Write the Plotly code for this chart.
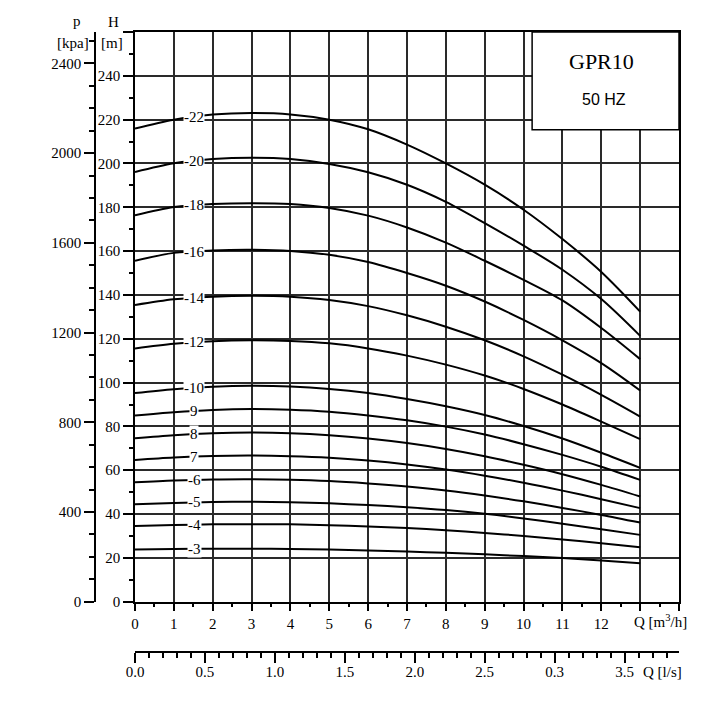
import numpy as np
import plotly.graph_objects as go

# ---------------- data ----------------
Q = [0, 1, 2, 3, 4, 5, 6, 7, 8, 9, 10, 11, 12, 13]  # m3/h

H_22 = [215.9, 220.0, 222.3, 223.0, 222.4, 220.0, 215.6, 208.6, 200.0, 190.3, 178.9, 165.5, 150.5, 132.4]
H_20 = [196.1, 200.1, 202.0, 202.6, 202.0, 199.8, 196.0, 190.3, 182.5, 172.8, 162.5, 151.5, 138.1, 121.3]
H_18 = [176.3, 180.1, 181.5, 181.9, 181.5, 179.7, 176.2, 170.8, 163.9, 155.6, 146.9, 137.5, 124.9, 110.7]
H_16 = [155.6, 159.2, 160.3, 160.6, 160.1, 158.3, 155.0, 150.0, 144.2, 137.0, 128.6, 119.3, 108.9, 96.4]
H_14 = [135.4, 138.0, 139.2, 139.6, 139.2, 137.7, 134.9, 130.7, 125.5, 119.3, 112.0, 103.6, 94.4, 84.5]
H_12 = [115.6, 117.7, 118.9, 119.3, 119.0, 117.9, 115.6, 112.3, 108.2, 103.2, 97.1, 90.0, 82.2, 74.2]
H_10 = [95.2, 97.0, 98.1, 98.5, 98.2, 97.1, 95.2, 92.5, 89.2, 85.2, 80.2, 74.5, 68.0, 61.1]
H_9 = [85.0, 86.5, 87.5, 87.9, 87.6, 86.7, 85.0, 82.8, 79.9, 76.3, 71.9, 67.0, 61.6, 55.6]
H_8 = [74.6, 76.0, 76.9, 77.2, 76.9, 76.0, 74.5, 72.4, 69.7, 66.4, 62.5, 58.2, 53.3, 48.0]
H_7 = [64.7, 65.8, 66.5, 66.7, 66.4, 65.7, 64.4, 62.6, 60.3, 57.5, 54.3, 50.7, 46.8, 42.7]
H_6 = [54.5, 55.3, 55.8, 55.9, 55.7, 55.1, 54.0, 52.6, 50.8, 48.5, 45.8, 42.8, 39.6, 36.1]
H_5 = [44.5, 45.1, 45.5, 45.6, 45.4, 44.9, 44.1, 43.1, 41.8, 40.1, 38.0, 35.6, 33.1, 30.5]
H_4 = [34.5, 35.0, 35.3, 35.4, 35.3, 34.9, 34.3, 33.6, 32.6, 31.4, 30.0, 28.4, 26.7, 24.9]
H_3 = [23.8, 24.1, 24.2, 24.2, 24.1, 23.8, 23.4, 22.9, 22.3, 21.6, 20.8, 19.9, 18.8, 17.6]

stage_labels = ["-22", "-20", "-18", "-16", "-14", "-12", "-10", "9", "8", "7", "-6", "-5", "-4", "-3"]
curves = [H_22, H_20, H_18, H_16, H_14, H_12, H_10, H_9, H_8, H_7, H_6, H_5, H_4, H_3]

H_ticks = list(range(0, 261, 20))
H_ticktext = [str(v) for v in range(0, 241, 20)] + [" "]
H_minor = list(range(10, 260, 20))
P_ticks = list(range(0, 2401, 400))
P_minor = [v for v in range(100, 2501, 100) if v % 400 != 0]
Q_ticks = list(range(0, 15))
Q_ticktext = [str(i) for i in range(13)] + [" ", " "]
Q_minor = [i + 0.5 for i in range(14)]
QLS_ticks = [0.0, 0.5, 1.0, 1.5, 2.0, 2.5, 3.0, 3.5]
QLS_ticktext = ["0.0", "0.5", "1.0", "1.5", "2.0", "2.5", "0.3", "3.5"]
QLS_minor = [round(v * 0.1, 1) for v in range(1, 39) if v % 5 != 0]

KPA_PER_M = 9.77
M3H_PER_LS = 3.6
H_MAX = 260
Q_MAX = 14

title_text = "GPR10"
freq_text = "50 HZ"

# ---------------- figure ----------------
W, HGT = 722, 701
ML, MR, MT, MB = 60, 43, 32, 50
PW = W - ML - MR
PH = HGT - MT - MB


def px(xp):
    return (xp - ML) / PW


def py(yp):
    return (HGT - MB - yp) / PH


SERIF = "Liberation Serif, Times New Roman, serif"
SANS = "Liberation Sans, Arial, sans-serif"
GRID = "#2a2a2a"
TICKFONT = dict(family=SERIF, size=15, color="black")

fig = go.Figure()
for lab, h in zip(stage_labels, curves):
    fig.add_trace(go.Scatter(x=Q, y=h, mode="lines",
                             line=dict(color="black", width=2, shape="spline", smoothing=0.9),
                             showlegend=False, hoverinfo="skip"))

# helper traces so the extra axes get drawn
fig.add_trace(go.Scatter(x=[0], y=[0], xaxis="x2", yaxis="y2", mode="markers",
                         marker=dict(opacity=0), showlegend=False, hoverinfo="skip"))
fig.add_trace(go.Scatter(x=[0], y=[0], xaxis="x", yaxis="y3", mode="markers",
                         marker=dict(opacity=0), showlegend=False, hoverinfo="skip"))

xdom = [px(135), 1.0]
ydom = [py(601.7), 1.0]

fig.update_layout(
    width=W, height=HGT,
    margin=dict(l=ML, r=MR, t=MT, b=MB),
    paper_bgcolor="white", plot_bgcolor="white",
    showlegend=False,
    xaxis=dict(domain=xdom, range=[0, Q_MAX], tickmode="array", tickvals=Q_ticks, ticktext=Q_ticktext,
               showgrid=True, gridcolor=GRID, gridwidth=1.5, zeroline=False,
               showline=True, linecolor="black", linewidth=1.5, mirror=True,
               ticks="outside", ticklen=8, tickwidth=1.5, tickcolor="black",
               minor=dict(tickmode="array", tickvals=Q_minor, ticks="outside", ticklen=4,
                          tickwidth=1.5, tickcolor="black", showgrid=False),
               tickfont=TICKFONT, fixedrange=True),
    yaxis=dict(domain=ydom, range=[0, H_MAX], tickmode="array", tickvals=H_ticks, ticktext=H_ticktext,
               showgrid=True, gridcolor=GRID, gridwidth=1.5, zeroline=False,
               showline=True, linecolor="black", linewidth=1.5, mirror=True,
               ticks="outside", ticklen=10, tickwidth=1.5, tickcolor="black",
               minor=dict(tickmode="array", tickvals=H_minor, ticks="outside", ticklen=4,
                          tickwidth=1.5, tickcolor="black", showgrid=False),
               tickfont=TICKFONT, fixedrange=True),
    yaxis3=dict(overlaying="y", anchor="free", position=px(95), side="left",
                range=[0, H_MAX * KPA_PER_M], tickmode="array", tickvals=P_ticks,
                showgrid=False, zeroline=False, showline=True, linecolor="black", linewidth=1.5,
                ticks="outside", ticklen=10, tickwidth=1.5, tickcolor="black",
                minor=dict(tickmode="array", tickvals=P_minor, ticks="outside", ticklen=5,
                           tickwidth=1.5, tickcolor="black", showgrid=False),
                tickfont=TICKFONT, fixedrange=True),
    xaxis2=dict(domain=xdom, anchor="y2", range=[0, Q_MAX / M3H_PER_LS], tickmode="array",
                tickvals=QLS_ticks, ticktext=QLS_ticktext, showgrid=False, zeroline=False,
                showline=True, linecolor="black", linewidth=1.5, side="bottom",
                ticks="outside", ticklen=10, tickwidth=1.5, tickcolor="black",
                ticklabelstandoff=-4,
                minor=dict(tickmode="array", tickvals=QLS_minor, ticks="outside", ticklen=5,
                           tickwidth=1.5, tickcolor="black", showgrid=False),
                tickfont=TICKFONT, fixedrange=True),
    yaxis2=dict(domain=[0, 0.001], anchor="x2", visible=False, range=[0, 1]),
)

# legend / title box
fig.add_shape(type="rect", xref="x", yref="y", x0=10.22, x1=Q_MAX, y0=215.4, y1=H_MAX,
              fillcolor="white", line=dict(color="black", width=1.5), layer="above")

annotations = []
annotations.append(dict(x=12.0, y=246.5, xref="x", yref="y", text=title_text, showarrow=False,
                        xanchor="center", yanchor="middle",
                        font=dict(family=SERIF, size=22, color="black")))
annotations.append(dict(x=12.08, y=229.1, xref="x", yref="y", text=freq_text, showarrow=False,
                        xanchor="center", yanchor="middle",
                        font=dict(family=SANS, size=16, color="black")))

# stage labels on curves
LABEL_X = 1.52
for lab, h in zip(stage_labels, curves):
    annotations.append(dict(x=LABEL_X, y=float(np.interp(LABEL_X, Q, h)), xref="x", yref="y",
                            text=lab, showarrow=False, bgcolor="white", borderpad=0,
                            xanchor="center", yanchor="middle",
                            font=dict(family=SERIF, size=15, color="black")))


def paper_text(x, y, text, size=15):
    return dict(x=px(x), y=py(y), xref="paper", yref="paper", text=text, showarrow=False,
                xanchor="center", yanchor="middle",
                font=dict(family=SERIF, size=size, color="black"))


# axis titles
annotations += [
    paper_text(77, 21, "p", 15),
    paper_text(73, 43, "[kpa]", 15),
    paper_text(113, 22, "H", 15),
    paper_text(112, 43, "[m]", 15),
    paper_text(660, 621, "Q [m<sup>3</sup>/h]", 15),
    paper_text(662, 672, "Q [l/s]", 15),
]
fig.update_layout(annotations=annotations)

fig.write_html("out.html")
